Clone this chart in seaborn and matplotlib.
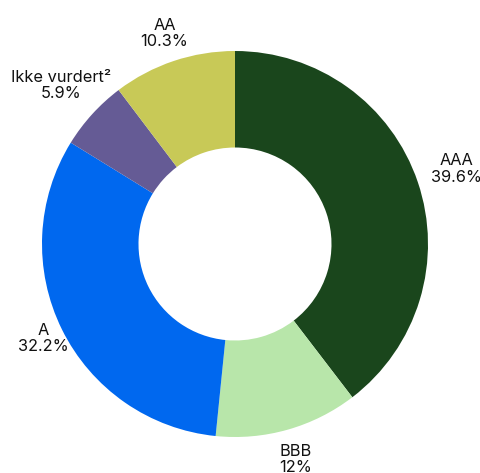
import matplotlib
matplotlib.use("Agg")
import matplotlib.pyplot as plt
import seaborn as sns

sns.set_theme(style="white")
plt.rcParams['font.family'] = ['Inter', 'DejaVu Sans']

categories = ["AAA", "BBB", "A", "Ikke vurdert²", "AA"]
values = [39.6, 12.0, 32.2, 5.9, 10.3]
value_labels = ["39.6%", "12%", "32.2%", "5.9%", "10.3%"]
colors = ["#1a461c", "#b8e6aa", "#0068ef", "#655b95", "#c8c957"]

fig = plt.figure(figsize=(4.81, 4.73), dpi=100)
W, H = 481, 473
cx, cy, R = 235, 244, 193
ax = fig.add_axes([(cx - R) / W, (H - cy - R) / H, 2 * R / W, 2 * R / H])

labels = [f"{c}\n{v}" for c, v in zip(categories, value_labels)]
wedges, texts = ax.pie(values, colors=colors, startangle=90, counterclock=False,
                       radius=1.0, labels=labels, labeldistance=1.0,
                       wedgeprops=dict(width=0.5, linewidth=0),
                       textprops=dict(fontsize=11.8, color="#111111", linespacing=1.1))
label_dist = [1.21, 1.16, 1.11, 1.22, 1.15]
for t, d in zip(texts, label_dist):
    x, y = t.get_position()
    t.set_position((x * d, y * d))
    t.set_ha("center")
    t.set_va("center")
ax.set_xlim(-1, 1)
ax.set_ylim(-1, 1)
ax.set_aspect("auto")
ax.axis("off")
fig.savefig("out.png", dpi=100)
